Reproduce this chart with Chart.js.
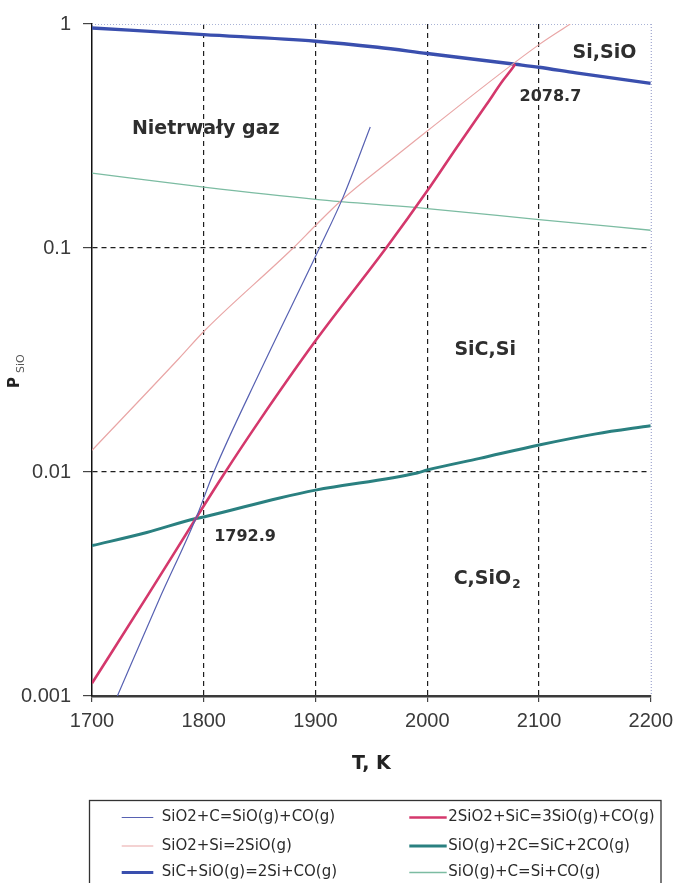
<!DOCTYPE html>
<html>
<head>
<meta charset="utf-8">
<script src="https://cdn.jsdelivr.net/npm/chart.js@4.4.1/dist/chart.umd.min.js"></script>
<style>
  html, body { margin: 0; padding: 0; background: #fff; overflow: hidden; }
  #wrap { position: relative; width: 680px; height: 883px; }
</style>
</head>
<body>
<div id="wrap"><canvas id="c"></canvas></div>
<script>
// Axis ticks
const xTicks = [1700, 1800, 1900, 2000, 2100, 2200];
const yTicks = [0.001, 0.01, 0.1, 1];
const yTickLabels = ['0.001', '0.01', '0.1', '1'];

// Reaction names (legend order)
const reactions = [
  'SiO2+C=SiO(g)+CO(g)',
  '2SiO2+SiC=3SiO(g)+CO(g)',
  'SiO2+Si=2SiO(g)',
  'SiO(g)+2C=SiC+2CO(g)',
  'SiC+SiO(g)=2Si+CO(g)',
  'SiO(g)+C=Si+CO(g)'
];

// Equilibrium SiO pressure vs temperature, one pair of arrays per reaction
const tSiO2C = [1722.7, 1760, 1792.9, 1809, 1850, 1904, 1925, 1949];
const pSiO2C = [0.001, 0.00269, 0.0062, 0.0100, 0.0278, 0.101, 0.170, 0.347];

const tSiO2SiC = [1700, 1750, 1792.9, 1816.7, 1850, 1900, 1964.5, 2000, 2026.5, 2053, 2068, 2074, 2078.7];
const pSiO2SiC = [0.00114, 0.00282, 0.0062, 0.00955, 0.0170, 0.0385, 0.102, 0.180, 0.282, 0.437, 0.562, 0.614, 0.661];

const tSiO2Si = [1700, 1778, 1800, 1880, 1900, 1923, 1973, 2000, 2100, 2128];
const pSiO2Si = [0.0125, 0.0322, 0.0424, 0.100, 0.126, 0.163, 0.260, 0.333, 0.809, 1.0];

const tSiO2C2 = [1700, 1749, 1792.9, 1800, 1867, 1900, 1991, 2000, 2047, 2100, 2151, 2200];
const pSiO2C2 = [0.00469, 0.00537, 0.0062, 0.0063, 0.00764, 0.0083, 0.0099, 0.0102, 0.0115, 0.0132, 0.0148, 0.0161];

const tSiCSiO = [1700, 1800, 1900, 1955.6, 2000, 2078.7, 2100, 2133, 2200];
const pSiCSiO = [0.960, 0.897, 0.838, 0.787, 0.738, 0.661, 0.641, 0.605, 0.543];

const tSiOC = [1700, 1800, 1900, 2000, 2100, 2200];
const pSiOC = [0.216, 0.187, 0.165, 0.150, 0.134, 0.120];

const seriesT = [tSiO2C, tSiO2SiC, tSiO2Si, tSiO2C2, tSiCSiO, tSiOC];
const seriesP = [pSiO2C, pSiO2SiC, pSiO2Si, pSiO2C2, pSiCSiO, pSiOC];

// Line styles per reaction
const lineColors = ['#5761b2', '#d4386c', '#e9a6a6', '#2a8080', '#3a4fae', '#7cbca2'];
const lineWidths = [1.2, 2.6, 1.2, 3, 3.4, 1.3];

// Phase-field annotations anchored in data units
const regionNotes = [
  { text: 'Nietrwały gaz', t: 1735.7, p: 0.322, size: 19 },
  { text: 'Si,SiO', t: 2130, p: 0.706, size: 19 },
  { text: '2078.7', t: 2082.6, p: 0.455, size: 16 },
  { text: 'SiC,Si', t: 2024.3, p: 0.0334, size: 19 },
  { text: '1792.9', t: 1809.3, p: 0.00493, size: 16 },
  { text: 'C,SiO', sub: '2', t: 2023.6, p: 0.00317, size: 19 }
];

const datasets = reactions.map((name, i) => ({
  label: name,
  data: seriesT[i].map((t, k) => ({ x: t, y: seriesP[i][k] })),
  borderColor: lineColors[i],
  backgroundColor: lineColors[i],
  borderWidth: lineWidths[i],
  pointRadius: 0,
  fill: false,
  cubicInterpolationMode: 'monotone'
}));

// Dotted top and right frame lines
const framePlugin = {
  id: 'frame',
  beforeDatasetsDraw(chart) {
    const { ctx, chartArea: a } = chart;
    ctx.save();
    ctx.lineWidth = 1;
    ctx.setLineDash([1, 2]);
    ctx.strokeStyle = '#a9b3d6';
    ctx.beginPath();
    ctx.moveTo(a.left, a.top + 0.5);
    ctx.lineTo(a.right, a.top + 0.5);
    ctx.stroke();
    ctx.strokeStyle = '#8a93c4';
    ctx.beginPath();
    ctx.moveTo(a.right + 0.5, a.top);
    ctx.lineTo(a.right + 0.5, a.bottom);
    ctx.stroke();
    ctx.restore();
  }
};

// Phase-field and intersection labels
const notesPlugin = {
  id: 'notes',
  afterDatasetsDraw(chart) {
    const { ctx, scales: { x, y } } = chart;
    ctx.save();
    ctx.fillStyle = '#2e2e2e';
    ctx.textAlign = 'left';
    ctx.textBaseline = 'alphabetic';
    regionNotes.forEach(n => {
      const px = x.getPixelForValue(n.t);
      const py = y.getPixelForValue(n.p);
      ctx.font = 'bold ' + n.size + 'px "DejaVu Sans"';
      ctx.fillText(n.text, px, py);
      if (n.sub) {
        const w = ctx.measureText(n.text).width;
        ctx.font = 'bold ' + Math.round(n.size * 0.65) + 'px "DejaVu Sans"';
        ctx.fillText(n.sub, px + w + 1, py + 4);
      }
    });
    ctx.restore();
  }
};

// Rotated y-axis title P with subscript SiO
const yTitlePlugin = {
  id: 'yTitle',
  afterDraw(chart) {
    const ctx = chart.ctx;
    ctx.save();
    ctx.translate(19, 388);
    ctx.rotate(-Math.PI / 2);
    ctx.textAlign = 'left';
    ctx.textBaseline = 'alphabetic';
    ctx.fillStyle = '#222';
    ctx.font = 'bold 15px "DejaVu Sans"';
    ctx.fillText('P', 0, 0);
    const w = ctx.measureText('P').width;
    ctx.fillStyle = '#555';
    ctx.font = '11px "DejaVu Sans"';
    ctx.fillText('SiO', w + 4, 5);
    ctx.restore();
  }
};

// Boxed two-column legend below the plot
const legendPlugin = {
  id: 'boxLegend',
  afterDraw(chart) {
    const ctx = chart.ctx;
    const box = { left: 89.5, top: 800.5, right: 661, bottom: 895 };
    const colX = [121.7, 409.3];
    const lineLen = [31.6, 37.4];
    const textGap = [8.4, 1.6];
    const rowY = [817.5, 846, 872.5];
    ctx.save();
    ctx.strokeStyle = '#333';
    ctx.lineWidth = 1.3;
    ctx.strokeRect(box.left, box.top, box.right - box.left, box.bottom - box.top);
    ctx.font = '15px "DejaVu Sans"';
    ctx.textBaseline = 'middle';
    ctx.textAlign = 'left';
    chart.data.datasets.forEach((ds, i) => {
      const col = i % 2, row = Math.floor(i / 2);
      const x0 = colX[col], yy = rowY[row];
      ctx.strokeStyle = ds.borderColor;
      ctx.lineWidth = Math.min(ds.borderWidth, 3);
      ctx.beginPath();
      ctx.moveTo(x0, yy);
      ctx.lineTo(x0 + lineLen[col], yy);
      ctx.stroke();
      ctx.fillStyle = '#2a2a2a';
      ctx.fillText(ds.label, x0 + lineLen[col] + textGap[col], yy);
    });
    ctx.restore();
  }
};

const tickFont = { family: '"Liberation Sans", Arial, sans-serif', size: 20 };

new Chart(document.getElementById('c'), {
  type: 'line',
  data: { datasets },
  plugins: [framePlugin, notesPlugin, yTitlePlugin, legendPlugin],
  options: {
    responsive: true,
    maintainAspectRatio: false,
    animation: false,
    layout: { padding: { top: 21, right: 24, bottom: 98, left: 0 } },
    plugins: { legend: { display: false }, tooltip: { enabled: false } },
    scales: {
      x: {
        type: 'linear',
        min: 1700,
        max: 2200,
        afterBuildTicks(scale) { scale.ticks = xTicks.map(v => ({ value: v })); },
        afterFit(scale) { scale.height = 89; },
        ticks: { font: tickFont, color: '#3a3a3a', padding: 7, maxRotation: 0, callback: v => String(v) },
        grid: {
          color: c => (c.tick && (c.tick.value === 1700 || c.tick.value === 2200)) ? 'rgba(0,0,0,0)' : '#1e1e1e',
          lineWidth: 1.2,
          tickColor: '#444',
          tickLength: 6,
          tickWidth: 1.2,
          tickBorderDash: []
        },
        border: { display: true, color: '#3a3a3a', width: 2.5, dash: [5, 4] },
        title: {
          display: true,
          text: 'T, K',
          color: '#222',
          font: { family: '"DejaVu Sans"', size: 19, weight: 'bold' },
          padding: { top: 0, bottom: 10 }
        }
      },
      y: {
        type: 'logarithmic',
        min: 0.001,
        max: 1,
        afterBuildTicks(scale) { scale.ticks = yTicks.map(v => ({ value: v })); },
        afterFit(scale) { scale.width = 92; },
        ticks: {
          font: tickFont,
          color: '#3a3a3a',
          padding: 12,
          callback: (v) => yTickLabels[yTicks.indexOf(v)] ?? ''
        },
        grid: {
          color: c => (c.tick && (c.tick.value === 1 || c.tick.value === 0.001)) ? 'rgba(0,0,0,0)' : '#1e1e1e',
          lineWidth: 1.2,
          tickColor: '#444',
          tickLength: 9,
          tickWidth: 1.2,
          tickBorderDash: []
        },
        border: { display: true, color: '#111', width: 1.5, dash: [5, 4] }
      }
    }
  }
});
</script>
</body>
</html>
